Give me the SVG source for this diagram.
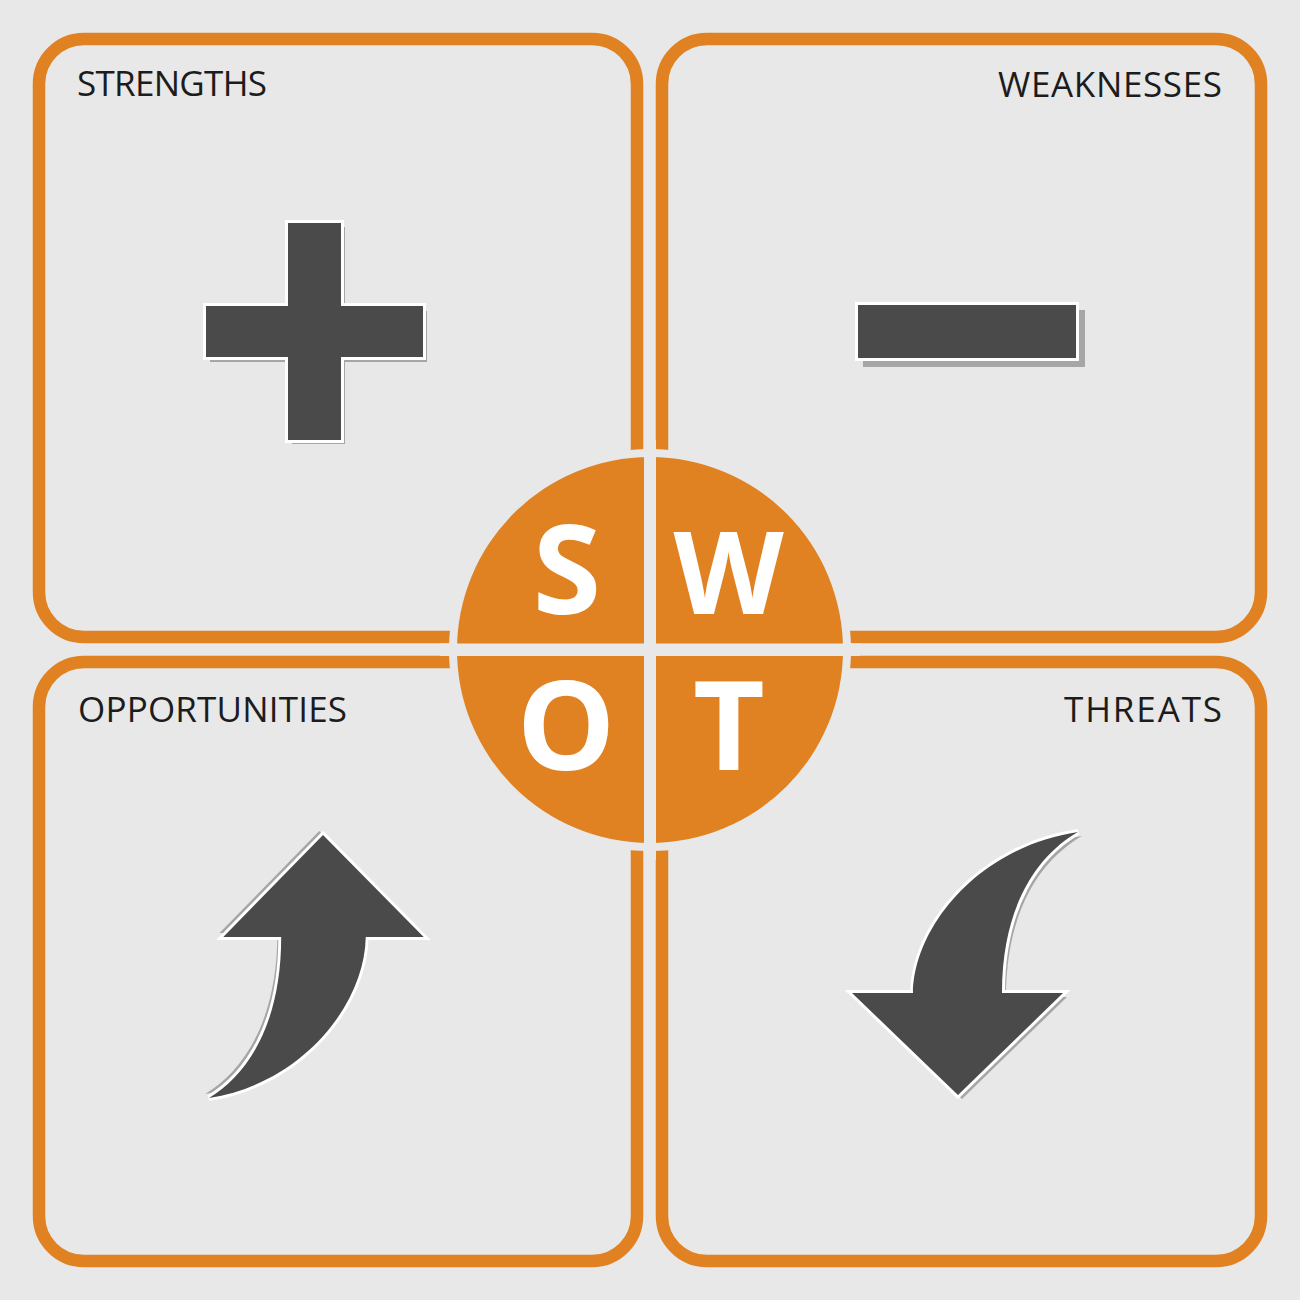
<svg xmlns="http://www.w3.org/2000/svg" width="1300" height="1300" viewBox="0 0 1300 1300">
<style>
.box{fill:none;stroke:#e08122;stroke-width:12.5}
.lbl{font-family:"Open Sans","Liberation Sans",sans-serif;font-size:35px;fill:#1c1c1c}
.big{font-family:"Open Sans","Liberation Sans",sans-serif;font-weight:bold;font-size:124px;fill:#ffffff;text-anchor:middle}
.icon{fill:#4a4a4a;stroke:#ffffff;stroke-width:6;paint-order:stroke;stroke-linejoin:miter}
.shadow{fill:#a6a6a6}
</style>
<defs>
<path id="arrow" d="M0,0 L-106,-102 L-45,-102 C-44,-168 20,-248 120,-263 C80,-240 44,-190 44,-102 L105,-102 Z"/>
</defs>
<rect width="1300" height="1300" fill="#e8e8e8"/>
<g id="connectors"></g>
<g id="strengths">
<rect class="box" x="39" y="39" width="598" height="598" rx="45"/>
<text class="lbl" x="77" y="96" textLength="190">STRENGTHS</text>
<path class="shadow" d="M292,227 h53 v84 h82 v51 h-82 v82 h-53 v-82 h-82 v-51 h82 Z"/>
<path class="icon" d="M288,223 h53 v83 h82 v51 h-82 v83 h-53 v-83 h-82 v-51 h82 Z"/>
</g>
<g id="weaknesses">
<rect class="box" x="662" y="39" width="599" height="598" rx="45"/>
<text class="lbl" x="1222" y="97" text-anchor="end" textLength="224">WEAKNESSES</text>
<rect class="shadow" x="863" y="310" width="222" height="57"/>
<rect class="icon" x="858" y="305" width="218" height="53"/>
</g>
<g id="opportunities">
<rect class="box" x="39" y="662" width="598" height="599" rx="45"/>
<text class="lbl" x="78" y="722" textLength="269">OPPORTUNITIES</text>
<g transform="translate(323,835) rotate(180) scale(0.95,1)">
<use href="#arrow" class="shadow" transform="translate(4,4)"/>
<use href="#arrow" class="icon"/>
</g>
</g>
<g id="threats">
<rect class="box" x="662" y="662" width="599" height="599" rx="45"/>
<text class="lbl" x="1222" y="722" text-anchor="end" textLength="158">THREATS</text>
<g transform="translate(958,1095)">
<use href="#arrow" class="shadow" transform="translate(4,4)"/>
<use href="#arrow" class="icon"/>
</g>
</g>
<g id="swot">
<circle cx="650" cy="650" r="201" fill="#e8e8e8"/>
<circle cx="650" cy="650" r="193" fill="#e08122"/>
<rect x="644" y="440" width="12" height="420" fill="#e8e8e8"/>
<rect x="440" y="643.5" width="420" height="12.5" fill="#e8e8e8"/>
<text class="big" x="567" y="614">S</text>
<text class="big" x="728.5" y="614" style="font-size:114px">W</text>
<text class="big" x="566" y="770">O</text>
<text class="big" x="729" y="770">T</text>
</g>
</svg>
